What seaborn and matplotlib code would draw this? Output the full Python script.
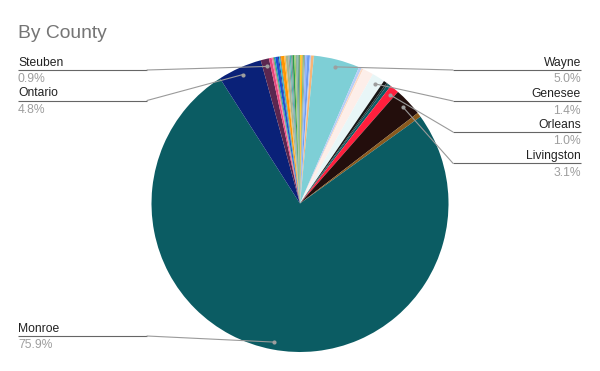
import matplotlib
matplotlib.use("Agg")
import matplotlib.pyplot as plt
import seaborn as sns
import numpy as np

# ---- data (clockwise from 12 o'clock, as in the source sheet) ----
counties = (
    [f"County {i}" for i in range(1, 9)]
    + ["Wayne"]
    + [f"County {i}" for i in range(9, 12)]
    + ["Genesee"]
    + [f"County {i}" for i in range(12, 15)]
    + ["Orleans", "Livingston"]
    + ["County 15"]
    + ["Monroe", "Ontario", "Steuben"]
    + [f"County {i}" for i in range(16, 36)]
)
shares = (
    [0.15, 0.15, 0.12, 0.15, 0.20, 0.30, 0.13, 0.30]
    + [5.0]
    + [0.30, 0.20, 1.17]
    + [1.4]
    + [0.35, 0.20, 0.35]
    + [1.0, 3.1]
    + [0.5]
    + [75.9, 4.8, 0.9]
    + [0.30, 0.15, 0.08, 0.15, 0.30, 0.10, 0.15, 0.08, 0.35, 0.15,
       0.28, 0.15, 0.15, 0.15, 0.20, 0.15, 0.20, 0.14, 0.07, 0.06]
)
slice_colors = (
    ["#f5d327", "#ff9f1c", "#5fb86a", "#9aa5a8", "#8fb8ff", "#6f9cf0", "#b8cdf5", "#f7b577"]
    + ["#7ecfd6"]
    + ["#b6cdf7", "#fbd9c4", "#fdeee9"]
    + ["#e8f6f7"]
    + ["#161616", "#1f3b3d", "#0c5e66"]
    + ["#ff1f3d", "#230e0c"]
    + ["#8a5a1e"]
    + ["#0b5c63", "#0a2178", "#5b2750"]
    + ["#e8467c", "#f27aa8", "#8e8a3a", "#20a39e", "#1a4fd6", "#1a237e", "#26c6da", "#a0522d",
       "#ff9800", "#ffb74d", "#a5b88f", "#9e9e9e", "#4db6ac", "#78909c", "#2e9d4a", "#9ccc65",
       "#8fb3a3", "#5f9ea0", "#c0ca33", "#1b7a3a"]
)

title = "By County"
labelled = ["Steuben", "Ontario", "Monroe", "Wayne", "Genesee", "Orleans", "Livingston"]

# ---- layout ----
sns.set_theme(style="white")
plt.rcParams["font.family"] = ["Liberation Sans", "DejaVu Sans"]

W, H = 600, 371
fig = plt.figure(figsize=(W / 100, H / 100), dpi=100)
ax = fig.add_axes([0, 0, 1, 1])


def py(y):
    return H - y


cx, cy, R = 300, py(203.5), 148.5
wedges, _ = ax.pie(shares, colors=slice_colors, startangle=90, counterclock=False,
                   center=(cx, cy), radius=R,
                   wedgeprops=dict(linewidth=0))
ax.set_xlim(0, W)
ax.set_ylim(0, H)
ax.set_aspect("auto")
ax.axis("off")

total = sum(shares)

# label layout: side and y of the underline (pixels from top)
label_side = {"Steuben": "L", "Ontario": "L", "Monroe": "L",
              "Wayne": "R", "Genesee": "R", "Orleans": "R", "Livingston": "R"}
label_line_y = {"Steuben": 70, "Ontario": 100.5, "Monroe": 336,
                "Wayne": 70, "Genesee": 101, "Orleans": 132, "Livingston": 163.3}

for name in labelled:
    i = counties.index(name)
    w = wedges[i]
    mid = np.deg2rad((w.theta1 + w.theta2) / 2)
    dx, dy = cx + 0.95 * R * np.cos(mid), cy + 0.95 * R * np.sin(mid)
    yl = py(label_line_y[name])
    if label_side[name] == "L":
        x0, x1, xe, ha, xt = 18, 147, 147, "left", 18
    else:
        x0, x1, xe, ha, xt = 453, 581, 453, "right", 581
    ax.plot([x0, x1], [yl, yl], color="#666666", lw=0.8, solid_capstyle="butt")
    ax.plot([xe, dx], [yl, dy], color="#9a9a9a", lw=0.8)
    ax.plot([dx], [dy], marker="o", ms=3, color="#9e9e9e", mec="none")
    ax.text(xt, yl + 4, name, ha=ha, va="baseline", fontsize=8.7, color="#222222")
    ax.text(xt, yl - 12.5, f"{shares[i] / total * 100:.1f}%", ha=ha, va="baseline",
            fontsize=8.7, color="#9e9e9e")

ax.text(18, py(37.5), title, ha="left", va="baseline", fontsize=13.9, color="#757575")

fig.savefig("out.png", dpi=100)
